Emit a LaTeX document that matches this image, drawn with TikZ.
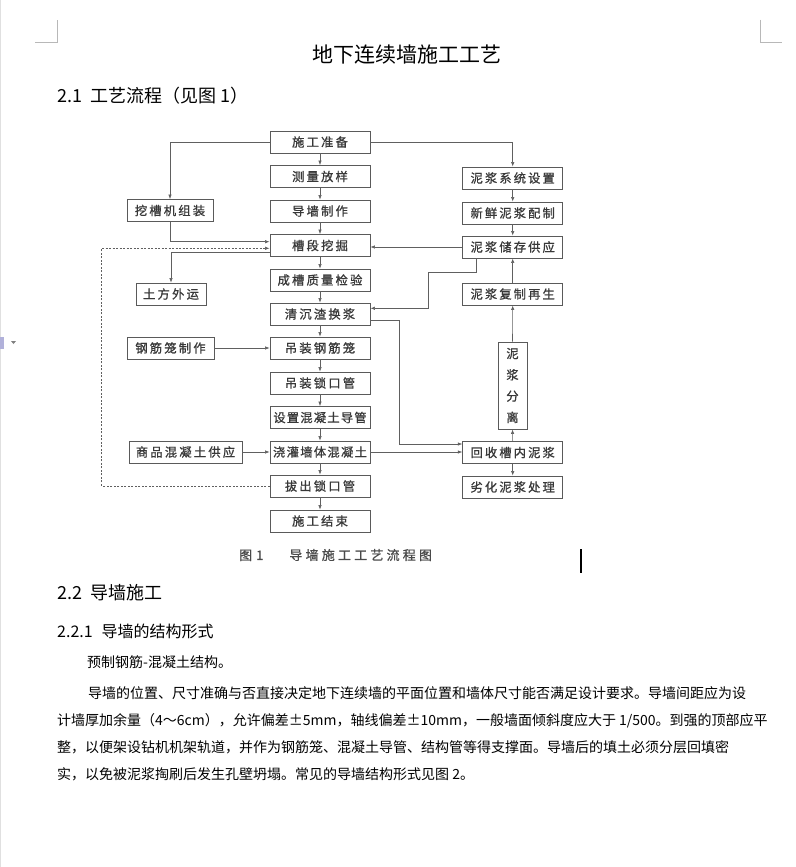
\documentclass[tikz,border=0pt]{standalone}
\usepackage{fontspec}
\setmainfont{Noto Sans CJK SC}
\newfontfamily\dgfont[FakeBold=0.9]{Noto Sans CJK SC}
\usetikzlibrary{calc,arrows.meta}
\definecolor{boxc}{HTML}{5A5A5A}
\definecolor{linec}{HTML}{606060}
\definecolor{txtc}{HTML}{383838}
\definecolor{capc}{HTML}{4A4A4A}
\definecolor{markc}{HTML}{B8B8B8}
\newdimen\lsp
\def\spc#1#2{\lsp=#1\relax\spci#2\relax\kern-\lsp}
\def\spci#1{\ifx#1\relax\else#1\kern\lsp\expandafter\spci\fi}
\tikzset{
  box/.style={draw=boxc, line width=0.8pt, minimum height=22pt, inner sep=0pt,
    font=\dgfont\fontsize{12.3}{12.3}\selectfont, text=txtc, fill=white},
  arr/.style={-{Latex[length=4.5pt,width=3.4pt]}, draw=linec, line width=0.6pt},
  pg/.style={anchor=west, inner sep=0pt, text=black},
}
\begin{document}
\begin{tikzpicture}[x=1pt,y=-1pt]
\fill[white] (0,0) rectangle (795,867);
\useasboundingbox (0,0) rectangle (795,867);
% page furniture
\draw[markc, line width=0.8pt] (35,42) -- (57,42) -- (57,20);
\draw[markc, line width=0.8pt] (760,20) -- (760,42) -- (782,42);
\draw[black!12, line width=0.6pt] (0.5,0) -- (0.5,867);
\fill[blue!35!gray!45] (0,337) rectangle (4,349);
\fill[gray] (11,341) -- (16,341) -- (13.5,344) -- cycle;
% page text
\node[anchor=center, inner sep=0pt, font=\fontsize{21}{21}\selectfont] (title) at (407,55) {地下连续墙施工工艺};
\node[pg, font=\fontsize{18}{18}\selectfont] (h21) at (57,96) {2.1\kern8pt 工艺流程（见图\kern4pt 1）};
\node[pg, font=\fontsize{18}{18}\selectfont] (h22) at (57,593) {2.2\kern8pt 导墙施工};
\node[pg, font=\fontsize{16}{16}\selectfont] (h221) at (57,631) {2.2.1\kern9pt 导墙的结构形式};
\node[pg, font=\fontsize{14}{14}\selectfont] (t0) at (87,662) {预制钢筋-混凝土结构。};
\node[pg, font=\fontsize{14}{14}\selectfont] (t1) at (88,693) {导墙的位置、尺寸准确与否直接决定地下连续墙的平面位置和墙体尺寸能否满足设计要求。导墙间距应为设};
\node[pg, font=\fontsize{14}{14}\selectfont] (t2) at (57,721) {计墙厚加余量（4～6cm），允许偏差±5mm，轴线偏差±10mm，一般墙面倾斜度应大于 1/500。到强的顶部应平};
\node[pg, font=\fontsize{14}{14}\selectfont] (t3) at (57,747) {整，以便架设钻机机架轨道，并作为钢筋笼、混凝土导管、结构管等得支撑面。导墙后的填土必须分层回填密};
\node[pg, font=\fontsize{14}{14}\selectfont] (t4) at (57,774) {实，以免被泥浆掏刷后发生孔壁坍塌。常见的导墙结构形式见图 2。};
\node[pg, text=capc, font=\dgfont\fontsize{13}{13}\selectfont] (cap) at (239,555) {图\kern4pt 1\kern26pt\spc{3.2pt}{导墙施工工艺流程图}};
\draw[black, line width=1.6pt] (581,549) -- (581,573);
% central column
\node[box, minimum width=100pt] (zb) at (320,142) {\spc{2.2pt}{施工准备}};
\node[box, minimum width=100pt] (cl) at (320,176.5) {\spc{2.2pt}{测量放样}};
\node[box, minimum width=100pt] (dq) at (320,211) {\spc{2.2pt}{导墙制作}};
\node[box, minimum width=100pt] (cw) at (320,245.5) {\spc{2.2pt}{槽段挖掘}};
\node[box, minimum width=100pt] (cj) at (320,280) {\spc{2.2pt}{成槽质量检验}};
\node[box, minimum width=100pt] (qc) at (320,314) {\spc{2.2pt}{清沉渣换浆}};
\node[box, minimum width=100pt] (dl) at (320,348) {\spc{2.2pt}{吊装钢筋笼}};
\node[box, minimum width=100pt] (ds) at (320,383) {\spc{2.2pt}{吊装锁口管}};
\node[box, minimum width=100pt] (sz) at (320,417.5) {\spc{1.2pt}{设置混凝土导管}};
\node[box, minimum width=100pt] (jg) at (320,452) {\spc{1.3pt}{浇灌墙体混凝土}};
\node[box, minimum width=100pt] (bc) at (320,486) {\spc{2.2pt}{拔出锁口管}};
\node[box, minimum width=100pt] (js) at (320,521) {\spc{2.2pt}{施工结束}};
% left column
\node[box, minimum width=86pt] (wj) at (170,210.5) {\spc{2.2pt}{挖槽机组装}};
\node[box, minimum width=70pt] (tf) at (171,294) {\spc{2.2pt}{土方外运}};
\node[box, minimum width=87pt] (gj) at (170.5,348) {\spc{2.2pt}{钢筋笼制作}};
\node[box, minimum width=113pt] (sp) at (185.5,452) {\spc{2.2pt}{商品混凝土供应}};
% right column
\node[box, minimum width=100pt] (nx) at (512.7,178) {\spc{2.1pt}{泥浆系统设置}};
\node[box, minimum width=100pt] (xx) at (512.7,213) {\spc{2.1pt}{新鲜泥浆配制}};
\node[box, minimum width=100pt] (nc) at (512.7,247) {\spc{2.1pt}{泥浆储存供应}};
\node[box, minimum width=100pt] (fs) at (512.7,294) {\spc{2.1pt}{泥浆复制再生}};
\node[box, minimum width=29pt, minimum height=87pt, align=center] (fl) at (512.5,385.5) {泥\\[9pt]浆\\[9pt]分\\[9pt]离};
\node[box, minimum width=100pt] (hs) at (512.7,452.5) {\spc{2.1pt}{回收槽内泥浆}};
\node[box, minimum width=100pt] (lh) at (512.7,487) {\spc{2.1pt}{劣化泥浆处理}};
% central chain
\foreach \a/\b in {zb/cl, cl/dq, dq/cw, cw/cj, cj/qc, qc/dl, dl/ds, ds/sz, sz/jg, jg/bc, bc/js}
  \draw[arr] (\a.south) -- (\b.north);
% right chain
\draw[arr] (nx.south) -- (xx.north);
\draw[arr] (xx.south) -- (nc.north);
\draw[arr] (fs.north) -- (nc.south);
\draw[arr] (fl.north) -- (fs.south);
\draw[arr] (hs.north) -- (fl.south);
\draw[arr] (hs.south) -- (lh.north);
% branches from top
\draw[arr] (zb.west) -| (wj.north);
\draw[arr] (zb.east) -| (nx.north);
% into / out of 槽段挖掘
\coordinate (cwA) at ($(cw.west)+(0,-3.8)$);
\coordinate (cwB) at ($(cw.west)+(0,2.8)$);
\coordinate (cwC) at ($(cw.west)+(0,6.5)$);
\coordinate (dx) at (101.7,0);
\draw[arr] (wj.south) |- (cwA);
\draw[arr, dash pattern=on 2pt off 1.5pt] (bc.west) -- (bc.west -| dx) -- (cwB -| dx) -- (cwB);
\draw[arr] (cwC) -| (tf.north);
\draw[arr] (nc.west) -- (nc.west -| cw.east);
% slurry supply to 清沉渣换浆
\coordinate (p1) at (476.7,272.3);
\coordinate (p2) at (428.3,272.3);
\coordinate (p3) at (428.3,308.3);
\draw[arr] (nc.south -| p1) -- (p1) -- (p2) -- (p3) -- (p3 -| qc.east);
% 清沉渣换浆 to 回收槽内泥浆
\coordinate (q1) at ($(qc.east)+(0,6.7)$);
\coordinate (q2) at (399.3,444);
\draw[arr] (q1) -| (q2) -- (q2 -| hs.west);
\draw[arr] (jg.east) -- (jg.east -| hs.west);
% side inputs
\draw[arr] (gj.east) -- (dl.west);
\draw[arr] (sp.east) -- (jg.west);
\end{tikzpicture}
\end{document}
